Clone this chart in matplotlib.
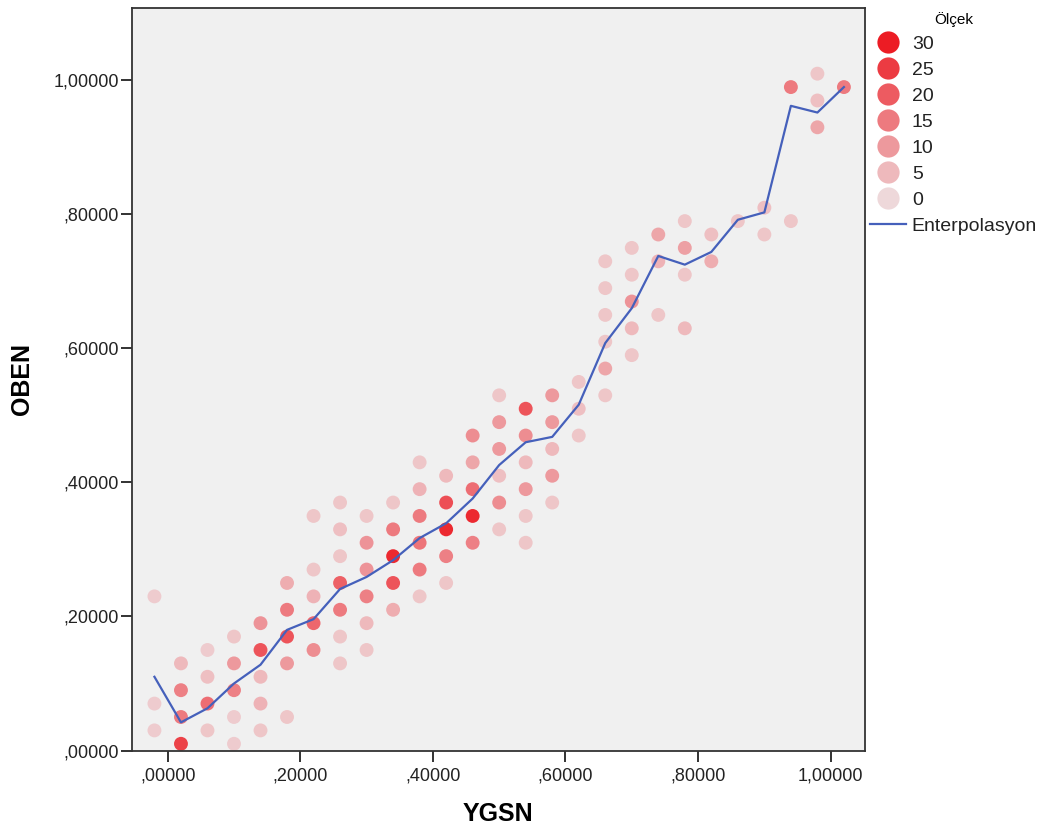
import numpy as np
import matplotlib
matplotlib.use('Agg')
import matplotlib.pyplot as plt
from matplotlib.colors import LinearSegmentedColormap
from matplotlib.lines import Line2D

plt.rcParams['font.family'] = ['Liberation Sans', 'DejaVu Sans']

# scatter points: YGSN, OBEN, scale value (Ölçek)
pt_x = ([-0.02] * 3 + [0.02] * 4 + [0.06] * 5 + [0.10] * 5 + [0.14] * 6 + [0.18] * 5
        + [0.22] * 5 + [0.26] * 7 + [0.30] * 6 + [0.34] * 5 + [0.38] * 6 + [0.42] * 5
        + [0.46] * 5 + [0.50] * 6 + [0.54] * 6 + [0.58] * 5 + [0.62] * 3 + [0.66] * 6
        + [0.70] * 5 + [0.74] * 3 + [0.78] * 4 + [0.82] * 2 + [0.86] * 1 + [0.90] * 2
        + [0.94] * 2 + [0.98] * 3 + [1.02] * 1)
pt_y = [0.23, 0.07, 0.03,
        0.13, 0.09, 0.05, 0.01,
        0.15, 0.11, 0.07, 0.03, -0.01,
        0.17, 0.13, 0.09, 0.05, 0.01,
        0.19, 0.15, 0.11, 0.07, 0.03, -0.01,
        0.25, 0.21, 0.17, 0.13, 0.05,
        0.35, 0.27, 0.23, 0.19, 0.15,
        0.37, 0.33, 0.29, 0.25, 0.21, 0.17, 0.13,
        0.35, 0.31, 0.27, 0.23, 0.19, 0.15,
        0.37, 0.33, 0.29, 0.25, 0.21,
        0.43, 0.39, 0.35, 0.31, 0.27, 0.23,
        0.41, 0.37, 0.33, 0.29, 0.25,
        0.47, 0.43, 0.39, 0.35, 0.31,
        0.53, 0.49, 0.45, 0.41, 0.37, 0.33,
        0.51, 0.47, 0.43, 0.39, 0.35, 0.31,
        0.53, 0.49, 0.45, 0.41, 0.37,
        0.55, 0.51, 0.47,
        0.73, 0.69, 0.65, 0.61, 0.57, 0.53,
        0.75, 0.71, 0.67, 0.63, 0.59,
        0.77, 0.73, 0.65,
        0.79, 0.75, 0.71, 0.63,
        0.77, 0.73,
        0.79,
        0.81, 0.77,
        0.99, 0.79,
        1.01, 0.97, 0.93,
        0.99]
pt_val = [2, 2, 2,
          5, 14, 15, 24,
          2, 4, 17, 3, 2,
          3, 10, 14, 2, 2,
          11, 21, 5, 6, 3, 2,
          7, 15, 21, 10, 3,
          3, 3, 6, 18, 12,
          3, 4, 3, 19, 15, 3, 3,
          3, 11, 11, 14, 5, 3,
          3, 15, 28, 21, 7,
          3, 6, 15, 16, 15, 3,
          5, 22, 28, 14, 3,
          12, 8, 17, 28, 14,
          3, 10, 10, 4, 12, 3,
          21, 12, 5, 10, 3, 3,
          10, 10, 5, 10, 3,
          3, 4, 3,
          3, 3, 3, 3, 8, 3,
          3, 3, 11, 5, 3,
          8, 6, 3,
          3, 9, 3, 5,
          4, 7,
          3,
          4, 3,
          15, 3,
          3, 4, 8,
          15]

# interpolation line
line_x = [-0.02, 0.02, 0.06, 0.10, 0.14, 0.18, 0.22, 0.26, 0.30, 0.34, 0.38, 0.42, 0.46, 0.50,
          0.54, 0.58, 0.62, 0.66, 0.70, 0.74, 0.78, 0.82, 0.86, 0.90, 0.94, 0.98, 1.02]
line_y = [0.110, 0.042, 0.063, 0.100, 0.128, 0.180, 0.196, 0.241, 0.259, 0.284, 0.317, 0.339,
          0.376, 0.426, 0.460, 0.468, 0.516, 0.608, 0.660, 0.738, 0.725, 0.744, 0.792, 0.803,
          0.962, 0.952, 0.990]

legend_vals = [30, 25, 20, 15, 10, 5, 0]
ticks = [0.0, 0.2, 0.4, 0.6, 0.8, 1.0]

cmap = LinearSegmentedColormap.from_list('olcek', ['#eed8da', '#ec1c24'])
vmax = 30


def spss_fmt(v):
    s = f"{v:.5f}".replace('.', ',')
    return s[1:] if s.startswith('0,') else s


fig = plt.figure(figsize=(10.57, 8.32), dpi=100)
ax = fig.add_axes([131.7 / 1057, 1 - 750.5 / 832, (865 - 131.7) / 1057, (750.5 - 8) / 832])
ax.set_facecolor('#f0f0f0')

ax.scatter(pt_x, pt_y, c=pt_val, cmap=cmap, vmin=0, vmax=vmax, s=100, linewidths=0, zorder=2)
ax.plot(line_x, line_y, color='#4560bb', lw=1.6, zorder=3)

ax.set_xlim(-0.0543, 1.0518)
ax.set_ylim(0, 1.108)
ax.set_xticks(ticks)
ax.set_yticks(ticks)
ax.set_xticklabels([spss_fmt(t) for t in ticks])
ax.set_yticklabels([spss_fmt(t) for t in ticks])
ax.tick_params(axis='both', direction='out', length=8, width=1.3, colors='#222222',
               labelsize=13, labelcolor='#222222')
ax.tick_params(axis='x', pad=4)
ax.tick_params(axis='y', pad=1)
for sp in ax.spines.values():
    sp.set_color('#333333')
    sp.set_linewidth(1.3)

ax.set_xlabel('YGSN', fontsize=18, fontweight='bold', labelpad=13)
ax.set_ylabel('OBEN', fontsize=18, fontweight='bold', labelpad=14)

handles = [Line2D([], [], ls='', marker='o', markersize=16, markeredgewidth=0,
                  color=cmap(v / vmax)) for v in legend_vals]
handles.append(Line2D([], [], color='#4560bb', lw=1.6))
labels = [str(v) for v in legend_vals] + ['Enterpolasyon']
leg = fig.legend(handles, labels, title='Ölçek', loc='upper left',
                 bbox_to_anchor=(870 / 1057, 1 - 12 / 832), frameon=False,
                 fontsize=14, title_fontsize=11, handlelength=1.85, handletextpad=0.3,
                 labelspacing=0.43, borderpad=0, borderaxespad=0)
for t in leg.get_texts():
    t.set_color('#222222')

fig.savefig('out.png', dpi=100)
